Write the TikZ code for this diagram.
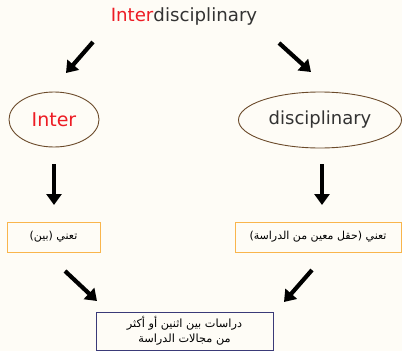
\documentclass[tikz,border=0pt]{standalone}
\usepackage{fontspec}
\setmainfont{DejaVu Sans}
\newfontfamily\arabicfont[Script=Arabic]{DejaVu Sans}
\TeXXeTstate=1
\usetikzlibrary{arrows.meta,shapes.geometric}
\definecolor{bgcream}{HTML}{FEFCF6}
\definecolor{ired}{HTML}{ED1C24}
\definecolor{dgray}{HTML}{333333}
\definecolor{ebrown}{HTML}{6B4A2A}
\definecolor{borange}{HTML}{F9B54C}
\definecolor{bnavy}{HTML}{3A3A78}
\tikzset{
  bigarrow/.style={line width=4.2pt,-{Triangle[width=15pt,length=11pt]}},
  wordellipse/.style={ellipse,draw=ebrown,line width=0.9pt,inner sep=0pt},
  meanbox/.style={rectangle,draw=borange,line width=1pt,inner sep=0pt,font=\arabicfont\fontsize{11}{13}\selectfont},
  resbox/.style={rectangle,draw=bnavy,line width=0.9pt,inner sep=0pt,align=center,font=\arabicfont\fontsize{11.3}{15}\selectfont}
}
\begin{document}
\begin{tikzpicture}[x=1pt,y=-1pt]
\fill[bgcream] (0,0) rectangle (402,351);
\useasboundingbox (0,0) rectangle (402,351);
\node[font=\fontsize{18.2}{20}\selectfont,text=dgray] (title) at (184,16) {{\color{ired}Inter}disciplinary};
\node[wordellipse,minimum width=90pt,minimum height=55pt,text=ired,font=\fontsize{19}{20}\selectfont] (inter) at (54,119.5) {Inter};
\node[wordellipse,minimum width=163pt,minimum height=56pt,text=dgray,font=\fontsize{18}{20}\selectfont] (disc) at (320,120) {disciplinary};
\node[meanbox,minimum width=93pt,minimum height=30pt] (mbetween) at (53.5,237) {\beginR تعني (بين)\endR};
\node[meanbox,minimum width=166pt,minimum height=30pt] (mfield) at (318,237) {\beginR تعني (حقل معين من الدراسة)\endR};
\node[resbox,minimum width=177pt,minimum height=38pt] (result) at (184.5,331) {\beginR دراسات بين اثنين أو أكثر\endR\\\beginR من مجالات الدراسة\endR};
\coordinate (a1s) at (93,42); \coordinate (a1e) at (66,73);
\coordinate (a2s) at (279,43); \coordinate (a2e) at (311,72);
\coordinate (a3s) at (54,164); \coordinate (a3e) at (54,205);
\coordinate (a4s) at (322,164); \coordinate (a4e) at (322,205);
\coordinate (a5s) at (65,271); \coordinate (a5e) at (97,301);
\coordinate (a6s) at (312,270); \coordinate (a6e) at (284,302);
\draw[bigarrow] (a1s) -- (a1e);
\draw[bigarrow] (a2s) -- (a2e);
\draw[bigarrow] (a3s) -- (a3e);
\draw[bigarrow] (a4s) -- (a4e);
\draw[bigarrow] (a5s) -- (a5e);
\draw[bigarrow] (a6s) -- (a6e);
\end{tikzpicture}
\end{document}
